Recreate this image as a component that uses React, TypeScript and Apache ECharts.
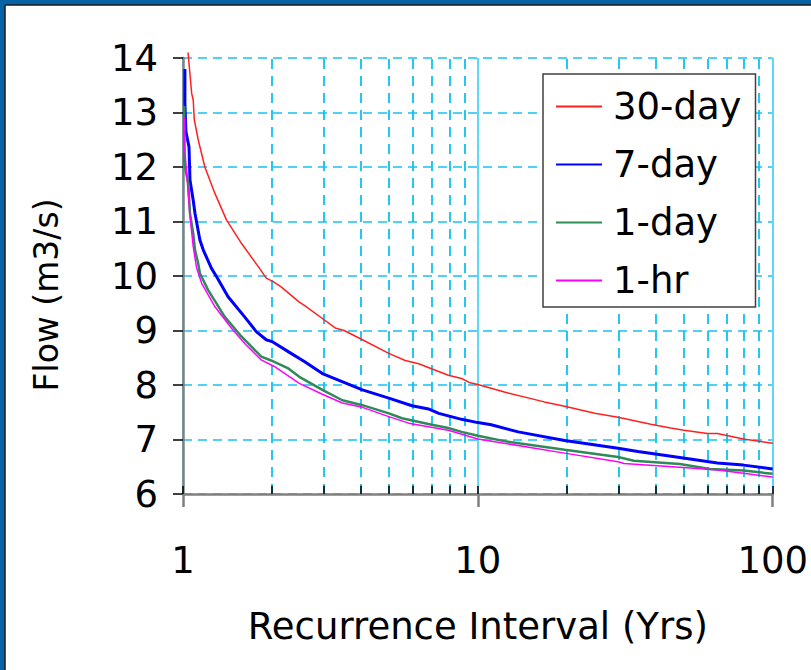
import React, { useEffect, useRef } from "react";
import * as echarts from "echarts";

// Recurrence interval (years) and flow (m3/s) for each duration
const x30day = [1.04, 1.07, 1.083, 1.092, 1.126, 1.186, 1.282, 1.404, 1.578, 1.818, 1.915, 2.016, 2.152, 2.48, 2.58, 2.97, 3.3, 3.52, 4.06, 4.99, 5.67, 6.3, 7.94, 8.81, 9.41, 10.0, 12.3, 16.8, 19.7, 24.9, 29.9, 38.6, 45.1, 50.0, 60.1, 64.9, 79.6, 100];
const y30day = [14.1, 13.35, 13.23, 12.87, 12.5, 12.0, 11.52, 11.03, 10.6, 10.14, 9.96, 9.9, 9.8, 9.52, 9.46, 9.22, 9.04, 9.0, 8.83, 8.58, 8.45, 8.39, 8.18, 8.12, 8.04, 8.01, 7.87, 7.69, 7.61, 7.48, 7.41, 7.28, 7.21, 7.17, 7.11, 7.11, 7.01, 6.93];

const x7day = [1.015, 1.015, 1.023, 1.048, 1.056, 1.083, 1.098, 1.141, 1.171, 1.249, 1.299, 1.422, 1.618, 1.772, 1.915, 2.016, 2.325, 2.58, 2.97, 4.06, 4.99, 5.98, 6.8, 7.37, 8.81, 10.0, 11.1, 13.7, 19.7, 29.9, 34.9, 48.4, 64.9, 79.6, 100];
const y7day = [13.8, 13.17, 12.65, 12.37, 11.76, 11.39, 11.15, 10.66, 10.48, 10.14, 9.99, 9.62, 9.25, 8.98, 8.83, 8.79, 8.58, 8.43, 8.21, 7.91, 7.76, 7.62, 7.56, 7.48, 7.37, 7.31, 7.27, 7.14, 6.98, 6.84, 6.78, 6.67, 6.57, 6.53, 6.46];

const x1day = [1.01, 1.01, 1.042, 1.056, 1.083, 1.098, 1.126, 1.141, 1.217, 1.386, 1.578, 1.842, 1.99, 2.265, 2.48, 2.97, 3.47, 4.06, 4.99, 5.53, 6.98, 7.94, 8.81, 10.0, 12.3, 19.7, 29.9, 33.8, 48.4, 61.3, 79.6, 100];
const y1day = [13.12, 12.07, 11.7, 11.15, 10.78, 10.48, 10.23, 10.05, 9.74, 9.25, 8.89, 8.52, 8.45, 8.31, 8.15, 7.91, 7.72, 7.63, 7.48, 7.39, 7.27, 7.21, 7.14, 7.07, 6.97, 6.81, 6.68, 6.61, 6.55, 6.46, 6.43, 6.37];

const x1hr = [1.01, 1.015, 1.029, 1.056, 1.083, 1.112, 1.156, 1.282, 1.46, 1.64, 1.842, 2.04, 2.48, 2.97, 3.47, 4.06, 4.99, 5.83, 7.94, 10.0, 19.7, 29.9, 31.3, 48.4, 64.9, 79.6, 100];
const y1hr = [12.9, 12.3, 11.88, 11.1, 10.54, 10.15, 9.87, 9.44, 9.04, 8.73, 8.46, 8.34, 8.03, 7.83, 7.67, 7.59, 7.42, 7.3, 7.17, 7.01, 6.75, 6.59, 6.56, 6.49, 6.44, 6.38, 6.31];

const seriesNames = ["30-day", "7-day", "1-day", "1-hr"];
const minorTicks = [2, 3, 4, 5, 6, 7, 8, 9, 20, 30, 40, 50, 60, 70, 80, 90];
const yMin = 6;
const yMax = 14;
const xMin = 1;
const xMax = 100;

const zip = (xs: number[], ys: number[]) => xs.map((x, i) => [x, ys[i]]);

export default function App() {
  const ref = useRef<HTMLDivElement>(null);
  useEffect(() => {
    if (!ref.current) return;
    const chart = echarts.init(ref.current, null, { renderer: "svg" });
    const font = "DejaVu Sans";
    const option: any = {
      animation: false,
      backgroundColor: "#ffffff",
      textStyle: { fontFamily: font },
      graphic: [
        { type: "rect", shape: { x: 0, y: 0, width: 811, height: 5 }, style: { fill: "#0862a6" }, silent: true },
        { type: "rect", shape: { x: 0, y: 0, width: 5, height: 670 }, style: { fill: "#0862a6" }, silent: true },
        { type: "line", shape: { x1: 5, y1: 5, x2: 811, y2: 5 }, style: { stroke: "#1a1a1a", lineWidth: 1.5 }, silent: true },
        { type: "line", shape: { x1: 5, y1: 5, x2: 5, y2: 670 }, style: { stroke: "#1a1a1a", lineWidth: 1.5 }, silent: true },
      ],
      grid: { left: 183, right: 35, top: 58, bottom: 176 },
      legend: {
        orient: "vertical",
        left: 543,
        top: 74,
        backgroundColor: "#ffffff",
        borderColor: "#404040",
        borderWidth: 1.5,
        borderRadius: 0,
        padding: [14, 14, 8, 13],
        itemWidth: 46,
        itemHeight: 2,
        itemGap: 21,
        icon: "rect",
        textStyle: { fontSize: 37, color: "#000", fontFamily: font, padding: [0, 0, 0, 6] },
        data: seriesNames.map((n) => ({ name: n, icon: "rect" })),
      },
      xAxis: [
        {
          type: "log",
          logBase: 10,
          min: xMin,
          max: xMax,
          axisLine: { show: true, onZero: false, lineStyle: { color: "#808080", width: 2.5 } },
          axisTick: { show: true, inside: true, length: 8, lineStyle: { color: "#000", width: 1.5 } },
          axisLabel: { fontSize: 37, color: "#000", margin: 48, fontFamily: font },
          splitLine: { show: true, lineStyle: { color: "#5fd8f8", width: 2 } },
          name: "Recurrence Interval (Yrs)",
          nameLocation: "middle",
          nameGap: 114,
          nameTextStyle: { fontSize: 37, color: "#000", fontFamily: font },
        },
        {
          type: "log",
          logBase: 10,
          min: xMin,
          max: xMax,
          position: "bottom",
          axisLine: { show: false },
          axisTick: { show: true, inside: false, length: 13, lineStyle: { color: "#808080", width: 2.5 } },
          axisLabel: { show: false },
          splitLine: { show: false },
        },
      ],
      yAxis: {
        type: "value",
        min: yMin,
        max: yMax,
        interval: 1,
        axisLine: { show: true, onZero: false, lineStyle: { color: "#808080", width: 2.5 } },
        axisTick: { show: true, length: 10, lineStyle: { color: "#000", width: 1.5 } },
        axisLabel: { fontSize: 37, color: "#000", margin: 25, fontFamily: font },
        splitLine: { show: true, lineStyle: { type: [9, 6], color: "#4fd0f4", width: 2 } },
        name: "Flow (m3/s)",
        nameLocation: "middle",
        nameRotate: 90,
        nameGap: 120,
        nameTextStyle: { fontSize: 33, color: "#000", fontFamily: font, padding: [0, 38, 0, 0] },
      },
      series: [
        {
          type: "line",
          name: "_grid",
          data: [[xMin, yMin]],
          symbol: "none",
          lineStyle: { opacity: 0 },
          silent: true,
          z: 1,
          markLine: {
            silent: true,
            z: 1,
            symbol: ["none", "none"],
            label: { show: false },
            animation: false,
            lineStyle: { type: [10, 7], color: "#0fc2f0", width: 1.8 },
            data: minorTicks.map((v) => ({ xAxis: v })),
          },
        },
        {
          type: "line",
          name: "_ticks",
          data: [[xMin, yMin]],
          symbol: "none",
          lineStyle: { opacity: 0 },
          silent: true,
          z: 4,
          markLine: {
            silent: true,
            z: 4,
            symbol: ["none", "none"],
            label: { show: false },
            animation: false,
            lineStyle: { type: "solid", color: "#000", width: 1.5 },
            data: minorTicks.map((v) => [{ coord: [v, yMin] }, { coord: [v, yMin + 0.15] }]),
          },
        },
        {
          type: "line", name: seriesNames[0], data: zip(x30day, y30day), symbol: "none", showSymbol: false,
          clip: false, z: 3, lineStyle: { color: "#ff2020", width: 1.5 }, itemStyle: { color: "#ff2020" },
        },
        {
          type: "line", name: seriesNames[1], data: zip(x7day, y7day), symbol: "none", showSymbol: false,
          z: 3, lineStyle: { color: "#0000ff", width: 3 }, itemStyle: { color: "#0000ff" },
        },
        {
          type: "line", name: seriesNames[2], data: zip(x1day, y1day), symbol: "none", showSymbol: false,
          z: 3, lineStyle: { color: "#2e8b57", width: 2.5 }, itemStyle: { color: "#2e8b57" },
        },
        {
          type: "line", name: seriesNames[3], data: zip(x1hr, y1hr), symbol: "none", showSymbol: false,
          z: 3, lineStyle: { color: "#ff00ff", width: 1.5 }, itemStyle: { color: "#ff00ff" },
        },
      ],
    };
    chart.setOption(option);
    return () => chart.dispose();
  }, []);
  return <div ref={ref} style={{ position: "absolute", left: 0, top: 0, width: 811, height: 670 }} />;
}
